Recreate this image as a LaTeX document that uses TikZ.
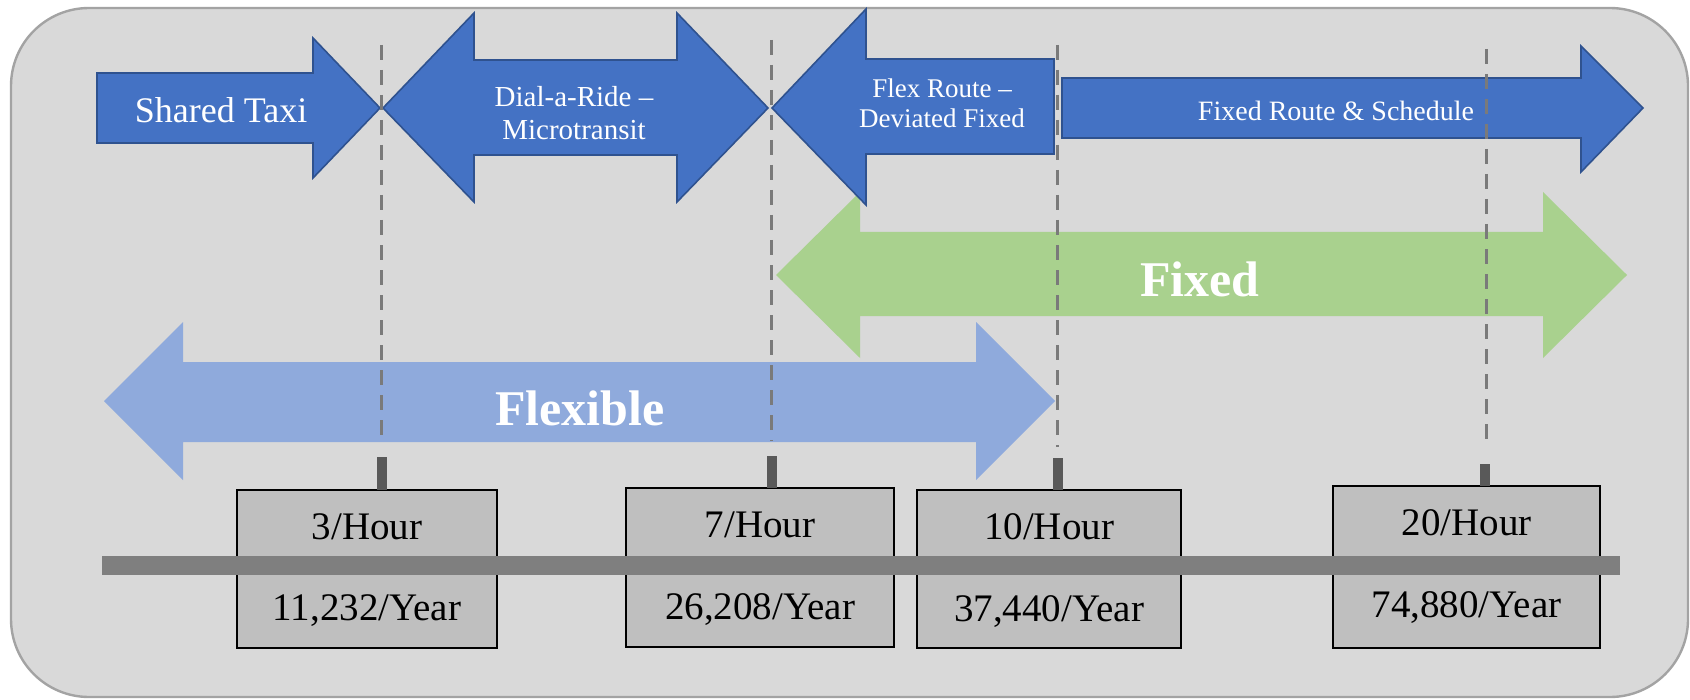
\documentclass[tikz,border=0pt]{standalone}
\usepackage{fontspec}
\setmainfont{Liberation Serif}
\definecolor{bgc}{HTML}{D9D9D9}
\definecolor{bgline}{HTML}{A3A3A3}
\definecolor{darkblue}{HTML}{4472C4}
\definecolor{darkblueline}{HTML}{2F528F}
\definecolor{lightblue}{HTML}{8FAADC}
\definecolor{lightgreen}{HTML}{A9D18E}
\definecolor{boxc}{HTML}{BFBFBF}
\definecolor{barc}{HTML}{7F7F7F}
\definecolor{tickc}{HTML}{595959}
\definecolor{guidec}{HTML}{7A7A7A}
\begin{document}
\begin{tikzpicture}[x=0.5pt,y=-0.5pt,
  outer/.style={fill=bgc,draw=bgline,line width=1.2pt,rounded corners=39pt},
  toparrow/.style={fill=darkblue,draw=darkblueline,line width=0.8pt,line join=miter},
  bigarrowblue/.style={fill=lightblue},
  bigarrowgreen/.style={fill=lightgreen},
  toptext/.style={text=white,anchor=base,inner sep=0pt},
  bigtext/.style={text=white,anchor=base,inner sep=0pt,font=\bfseries\fontsize{25}{28}\selectfont},
  valbox/.style={fill=boxc,draw=black,line width=0.8pt,inner sep=0pt,outer sep=0pt},
  valtext/.style={anchor=base,inner sep=0pt,text=black,font=\fontsize{19.5}{22}\selectfont},
  guide/.style={draw=guidec,line width=1.5pt,dash pattern=on 7.5pt off 5pt},
  tickmark/.style={draw=tickc,line width=5pt}
]
\useasboundingbox (0,0) rectangle (1690,700);
\draw[outer] (11,8) rectangle (1688,697);

% big background arrows
\fill[bigarrowblue] (104,401) -- (183,322) -- (183,362) -- (976,362) -- (976,322) -- (1055,401)
  -- (976,480) -- (976,442) -- (183,442) -- (183,480) -- cycle;
\fill[bigarrowgreen] (776,275) -- (860,192) -- (860,232) -- (1543,232) -- (1543,192) -- (1627,275)
  -- (1543,358) -- (1543,316) -- (860,316) -- (860,358) -- cycle;
\node[bigtext] (flexible) at (580,425) {Flexible};
\node[bigtext] (fixed) at (1200,296) {Fixed};

% top arrows
\draw[toparrow] (97,73) -- (313,73) -- (313,38) -- (380,108) -- (313,178) -- (313,143) -- (97,143) -- cycle;
\draw[toparrow] (383,108) -- (474,13) -- (474,60) -- (677,60) -- (677,13) -- (768,108) -- (677,202)
  -- (677,155) -- (474,155) -- (474,202) -- cycle;
\draw[toparrow] (772,108) -- (866,9) -- (866,59) -- (1054,59) -- (1054,154) -- (866,154) -- (866,205) -- cycle;
\draw[toparrow] (1062,78) -- (1581,78) -- (1581,46) -- (1643,108) -- (1581,172) -- (1581,138) -- (1062,138) -- cycle;

\node[toptext,font=\fontsize{18}{20}\selectfont] (taxi) at (221,123) {Shared Taxi};
\node[toptext,font=\fontsize{14.5}{16}\selectfont] (dar1) at (574,107) {Dial-a-Ride –};
\node[toptext,font=\fontsize{14.5}{16}\selectfont] (dar2) at (574,140) {Microtransit};
\node[toptext,font=\fontsize{13.5}{15}\selectfont] (flex1) at (942,98) {Flex Route –};
\node[toptext,font=\fontsize{13.5}{15}\selectfont] (flex2) at (942,128) {Deviated Fixed};
\node[toptext,font=\fontsize{14}{16}\selectfont] (fixedroute) at (1336,121) {Fixed Route \& Schedule};

% value boxes
\node[valbox,minimum width=130pt,minimum height=79pt] (b1) at (367,569) {};
\node[valbox,minimum width=134pt,minimum height=79.5pt] (b2) at (760,567.5) {};
\node[valbox,minimum width=132pt,minimum height=79pt] (b3) at (1049,569) {};
\node[valbox,minimum width=133.5pt,minimum height=81pt] (b4) at (1466.5,567) {};

% axis bar
\coordinate (barL) at (102,565.5);
\coordinate (barR) at (1620,565.5);
\draw[draw=barc,line width=9.5pt] (barL) -- (barR);

\node[valtext] (h1) at (367,539) {3/Hour};
\node[valtext] (y1) at (367,620) {11,232/Year};
\node[valtext] (h2) at (760,537) {7/Hour};
\node[valtext] (y2) at (760,619) {26,208/Year};
\node[valtext] (h3) at (1049,539) {10/Hour};
\node[valtext] (y3) at (1049,621) {37,440/Year};
\node[valtext] (h4) at (1466.5,535) {20/Hour};
\node[valtext] (y4) at (1466.5,617) {74,880/Year};

% ticks
\coordinate (t1) at (382,457);
\coordinate (t2) at (772,456);
\coordinate (t3) at (1058,458);
\coordinate (t4) at (1485,464);
\draw[tickmark] (t1) -- (t1 |- b1.north);
\draw[tickmark] (t2) -- (t2 |- b2.north);
\draw[tickmark] (t3) -- (t3 |- b3.north);
\draw[tickmark] (t4) -- (t4 |- b4.north);

% dashed guides
\coordinate (g1t) at (381,45);  \coordinate (g1b) at (381,441);
\coordinate (g2t) at (771,40);  \coordinate (g2b) at (771,441);
\coordinate (g3t) at (1057,45); \coordinate (g3b) at (1057,447);
\coordinate (g4t) at (1486,49); \coordinate (g4b) at (1486,445);
\draw[guide] (g1t) -- (g1b);
\draw[guide] (g2t) -- (g2b);
\draw[guide] (g3t) -- (g3b);
\draw[guide] (g4t) -- (g4b);
\end{tikzpicture}
\end{document}
